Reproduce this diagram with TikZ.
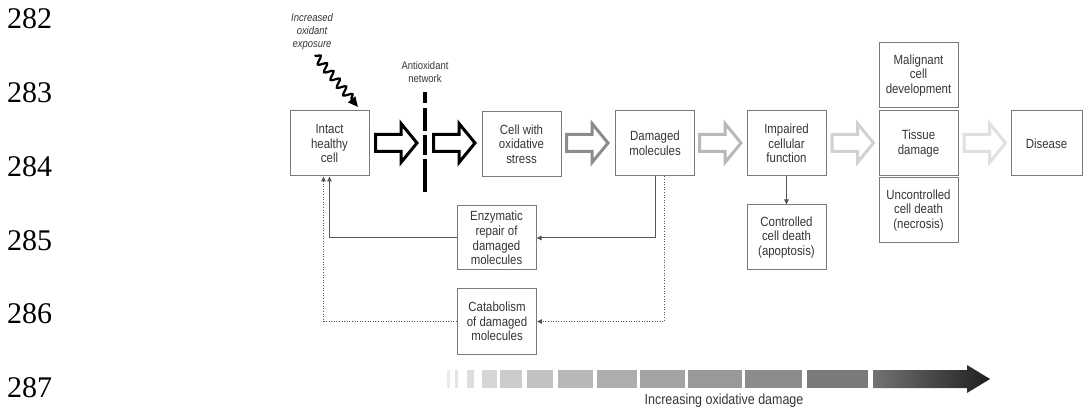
\documentclass[tikz,border=0pt]{standalone}
\usepackage{fontspec}
\setmainfont{Liberation Sans}[FakeStretch=0.86]
\newfontfamily\numfont{Liberation Serif}
\usetikzlibrary{arrows.meta,decorations.pathmorphing}
\definecolor{txt}{HTML}{353535}
\definecolor{boxc}{HTML}{7A7A7A}
\definecolor{connc}{HTML}{555555}
\tikzset{
  box/.style={draw=boxc, line width=1pt, minimum width=79pt, minimum height=65pt,
    inner sep=1pt, align=center, text=txt, font=\fontsize{13.3}{14.7}\selectfont},
  conn/.style={draw=connc, line width=1pt, -{Triangle[length=5pt,width=4.5pt]}},
  dotconn/.style={conn, dash pattern=on 1pt off 1.6pt},
  small/.style={text=txt, align=center, font=\fontsize{11}{13.5}\selectfont},
  linenum/.style={anchor=west, inner sep=0pt, font=\numfont\fontsize{30}{30}\selectfont},
  hollow/.pic={\draw[line width=3pt, line join=miter, pic actions]
     (-21.5,-8.5) -- (4,-8.5) -- (4,-19.5) -- (20,0) -- (4,19.5) -- (4,8.5) -- (-21.5,8.5) -- cycle;}
}
\begin{document}
\begin{tikzpicture}[x=1pt,y=-1pt]
\useasboundingbox (0,0) rectangle (1083,411);
% line numbers
\node[linenum] (l282) at (7,19) {282};
\node[linenum] (l283) at (7,93) {283};
\node[linenum] (l284) at (7,167) {284};
\node[linenum] (l285) at (7,241) {285};
\node[linenum] (l286) at (7,314) {286};
\node[linenum] (l287) at (7,388) {287};
% boxes
\node[box] (intact) at (329.5,143.5) {Intact\\healthy\\cell};
\node[box] (stress) at (521.5,144) {Cell with\\oxidative\\stress};
\node[box] (dam) at (655,143.5) {Damaged\\molecules};
\node[box] (imp) at (786.5,143.5) {Impaired\\cellular\\function};
\node[box] (tis) at (918.5,143.5) {Tissue\\damage};
\node[box] (mal) at (918.5,75.5) {Malignant\\cell\\development};
\node[box] (unc) at (918.5,210.5) {Uncontrolled\\cell death\\(necrosis)};
\node[box, minimum width=71pt] (dis) at (1046.5,143.5) {Disease};
\node[box] (ctrl) at (786.5,237.5) {Controlled\\cell death\\(apoptosis)};
\node[box, minimum height=64pt] (enz) at (496.5,238) {Enzymatic\\repair of\\damaged\\molecules};
\node[box] (cat) at (497,321.5) {Catabolism\\of damaged\\molecules};
% labels
\node[small, font=\itshape\fontsize{11}{13}\selectfont] (inc) at (312,31.5) {Increased\\oxidant\\exposure};
\node[small] (anti) at (425,72) {Antioxidant\\network};
% squiggly arrow
\coordinate (sq0) at (315,55);
\coordinate (sq1) at (358,107);
\draw[line width=2.2pt, black, decorate,
  decoration={snake, amplitude=4pt, segment length=10pt, pre length=1pt, post length=8pt},
  -{Triangle[length=10pt,width=9pt]}] (sq0) -- (sq1);
% antioxidant barrier
\draw[line width=4pt, black, dash pattern=on 11pt off 5pt on 23pt off 4pt on 20pt off 4pt on 33pt]
  (425,92) -- (425,192);
% hollow block arrows
\pic[draw=black] at (397,143) {hollow};
\pic[draw=black] at (455,143) {hollow};
\pic[draw=black!45] at (588,143) {hollow};
\pic[draw=black!28] at (721,143) {hollow};
\pic[draw=black!18] at (853.5,143) {hollow};
\pic[draw=black!12] at (985.5,143) {hollow};
% connectors
\draw[conn] (dam.south) |- (enz.east);
\draw[conn] (enz.west) -| (intact.south);
\draw[dotconn] ([xshift=9pt]dam.south) |- (cat.east);
\draw[dotconn] (cat.west) -| ([xshift=-6pt]intact.south);
\draw[conn] (imp.south) -- (ctrl.north);
% gradient bar
\foreach \a/\b/\c in {447/449.5/8,455/458/10,466.5/473.5/13,482/497/16,500/522/20,527/553/24,
  558/593/28,597/637/32,640/685/36,688/742/40,745/802/45,807/868/52}{
  \fill[black!\c] (\a,370) rectangle (\b,388);
}
\shade[left color=black!55, right color=black!88]
  (873,370) -- (967,370) -- (967,365) -- (990,379) -- (967,393) -- (967,388) -- (873,388) -- cycle;
\node[text=txt, anchor=base, inner sep=0pt, font=\fontsize{14.5}{15}\selectfont] (incdam) at (724,404) {Increasing oxidative damage};
\end{tikzpicture}
\end{document}
